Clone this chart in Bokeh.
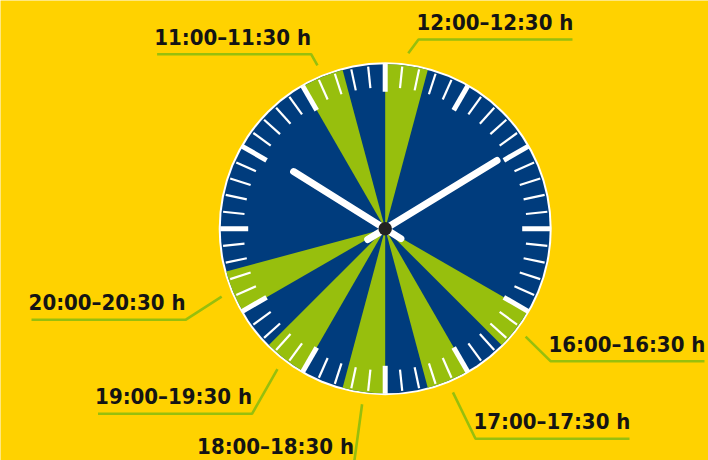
import numpy as np
from bokeh.plotting import figure
from bokeh.models import Range1d, ColumnDataSource
from bokeh.core.properties import value
from bokeh.embed import file_html
from bokeh.resources import INLINE

# ---- data ----
slot_start_hours = [11, 12, 16, 17, 18, 19, 20]
slot_length_hours = [0.5, 0.5, 0.5, 0.5, 0.5, 0.5, 0.5]
slot_labels = ["11:00–11:30 h", "12:00–12:30 h", "16:00–16:30 h", "17:00–17:30 h",
               "18:00–18:30 h", "19:00–19:30 h", "20:00–20:30 h"]
hand_angles_deg = [302, 58.6]       # hour hand, minute hand (clockwise from 12)

# ---- layout / style ----
YELLOW = "#FFD200"
BLUE = "#003C7D"
GREEN = "#97BF0D"
R_RING = 166.5
R_DISC = 164.5
label_side = ["left", "right", "right", "right", "left", "left", "left"]
label_elbow = [(-74.1, 174.6), (33.3, 189.3), (165.3, -132.4), (90.3, -210.0),
               (-31.2, -234.7), (-133.2, -185.0), (-199.7, -91.0)]
UNDERLINE_LEN = 154
LEADER_R = 177
hand_len = [108, 131]
hand_tail = [18.5, 20.5]

p = figure(width=708, height=460,
           x_range=Range1d(-384.7, 323.3), y_range=Range1d(-231.7, 228.3),
           output_backend="svg", toolbar_location=None, min_border=0)
p.axis.visible = False
p.grid.visible = False
p.outline_line_color = None
p.background_fill_color = YELLOW
p.border_fill_color = YELLOW

# clock face
p.scatter(x=[0], y=[0], size=2 * R_RING, fill_color="white", line_color=None)
p.scatter(x=[0], y=[0], size=2 * R_DISC, fill_color=BLUE, line_color=None)

# wedges
theta1 = [(h % 12) * 30 for h in slot_start_hours]
theta2 = [(h % 12) * 30 + l * 30 for h, l in zip(slot_start_hours, slot_length_hours)]
wsrc = ColumnDataSource(dict(
    x=[0] * len(theta1), y=[0] * len(theta1),
    start=[np.radians(90 - t) for t in theta1],
    end=[np.radians(90 - t) for t in theta2]))
p.wedge(x="x", y="y", radius=R_DISC, start_angle="start", end_angle="end",
        direction="clock", fill_color=GREEN, line_color=None, source=wsrc)

# ticks
ang = np.radians(np.arange(60) * 6)
major = (np.arange(60) % 5 == 0)
for sel, r0, r1, w in [(~major, 141.5, 163.0, 2.2), (major, 137.0, 165.0, 5.0)]:
    a = ang[sel]
    p.segment(x0=r0 * np.sin(a), y0=r0 * np.cos(a), x1=r1 * np.sin(a), y1=r1 * np.cos(a),
              line_color="white", line_width=w, line_cap="butt")

# hands
for a_deg, L, T in zip(hand_angles_deg, hand_len, hand_tail):
    a = np.radians(a_deg)
    p.segment(x0=[-T * np.sin(a)], y0=[-T * np.cos(a)], x1=[L * np.sin(a)], y1=[L * np.cos(a)],
              line_color="white", line_width=7, line_cap="round")
p.scatter(x=[0], y=[0], size=13.5, fill_color="#222222", line_color=None)

# labels with leader lines
for t1, t2, lab, side, (ex, ey) in zip(theta1, theta2, slot_labels, label_side, label_elbow):
    mid = np.radians((t1 + t2) / 2)
    sx, sy = LEADER_R * np.sin(mid), LEADER_R * np.cos(mid)
    endx = ex + UNDERLINE_LEN if side == "right" else ex - UNDERLINE_LEN
    p.line(x=[sx, ex, endx], y=[sy, ey, ey], line_color=GREEN, line_width=2.6)
    p.text(x=[ex + (-2 if side == "right" else 0)], y=[ey + 4.5], text=[lab],
           text_font=value("DejaVu Sans Condensed"),
           text_font_style="bold", text_font_size="22px", text_color="#141414",
           text_align="left" if side == "right" else "right", text_baseline="bottom")

open("out.html", "w").write(file_html(p, INLINE))
